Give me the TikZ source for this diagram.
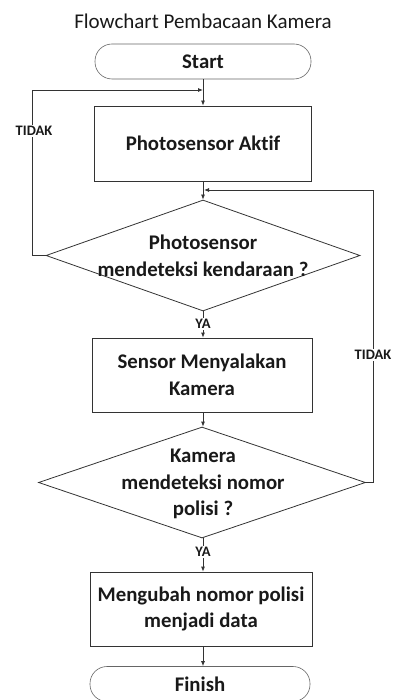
\documentclass[tikz,border=0pt]{standalone}
\usepackage{fontspec}
\setmainfont{Carlito}[Ligatures=NoCommon]
\usetikzlibrary{arrows.meta,shapes.geometric}
\begin{document}
\begin{tikzpicture}[x=1pt,y=-1pt,
  line width=0.8pt,
  every node/.style={font=\bfseries\fontsize{20.8}{26.5}\selectfont, text=black!90},
  procbox/.style={draw=black!80, rectangle, inner sep=0pt},
  termbox/.style={draw=black!60, line width=0.6pt, rectangle, rounded corners=17pt, inner sep=0pt, minimum height=35pt},
  decbox/.style={draw=black!80, diamond, inner sep=0pt, minimum height=111pt},
  lbl/.style={font=\bfseries\fontsize{14.5}{16}\selectfont, fill=white, inner sep=1pt},
  arr/.style={draw=black!80, -{Latex[length=5pt,width=4pt]}},
  ln/.style={draw=black!80}]
\useasboundingbox (0,0) rectangle (393,700);
\node[font=\fontsize{21}{24}\selectfont] (title) at (203,21) {Flowchart Pembacaan Kamera};
\node[termbox, minimum width=216pt] (start) at (203,61.5) {Start};
\node[procbox, minimum width=217pt, minimum height=75pt] (p1) at (203,143.5) {Photosensor Aktif};
\node[decbox, minimum width=314pt] (d1) at (203,255.5) {};
\node[align=center] (d1t) at (203,256) {Photosensor\\mendeteksi kendaraan ?};
\node[procbox, minimum width=220pt, minimum height=74pt, align=center] (p2) at (202,375) {Sensor Menyalakan\\Kamera};
\node[decbox, minimum width=327pt] (d2) at (202,482.5) {};
\node[align=center] (d2t) at (203,484) {Kamera\\mendeteksi nomor\\polisi ?};
\node[procbox, minimum width=222pt, minimum height=74pt, align=center] (p3) at (201,609) {Mengubah nomor polisi\\menjadi data};
\node[termbox, minimum width=220pt] (fin) at (200,684) {Finish};
\coordinate (j1) at (203,90);
\coordinate (j2) at (204,190);
\draw[arr] (start.south -| j1) -- (p1.north -| j1);
\draw[arr] (p1.south -| j1) -- (d1.north);
\draw[arr] (d1.west) -- ++(-13,0) |- (j1);
\draw[arr] (d2.east) -- ++(7,0) |- (j2);
\draw[arr] (d1.south) -- (d1.south |- p2.north);
\draw[arr] (p2.south -| d1.south) -- (d2.north -| d1.south);
\draw[arr] (d2.south -| d1.south) -- (d1.south |- p3.north);
\draw[arr] (p3.south -| d1.south) -- (d1.south |- fin.north);
\node[lbl] (t1) at (34,131) {TIDAK};
\node[lbl] (t2) at (373,355) {TIDAK};
\node[lbl] (y1) at (203,324) {YA};
\node[lbl] (y2) at (203,552) {YA};
\end{tikzpicture}
\end{document}
